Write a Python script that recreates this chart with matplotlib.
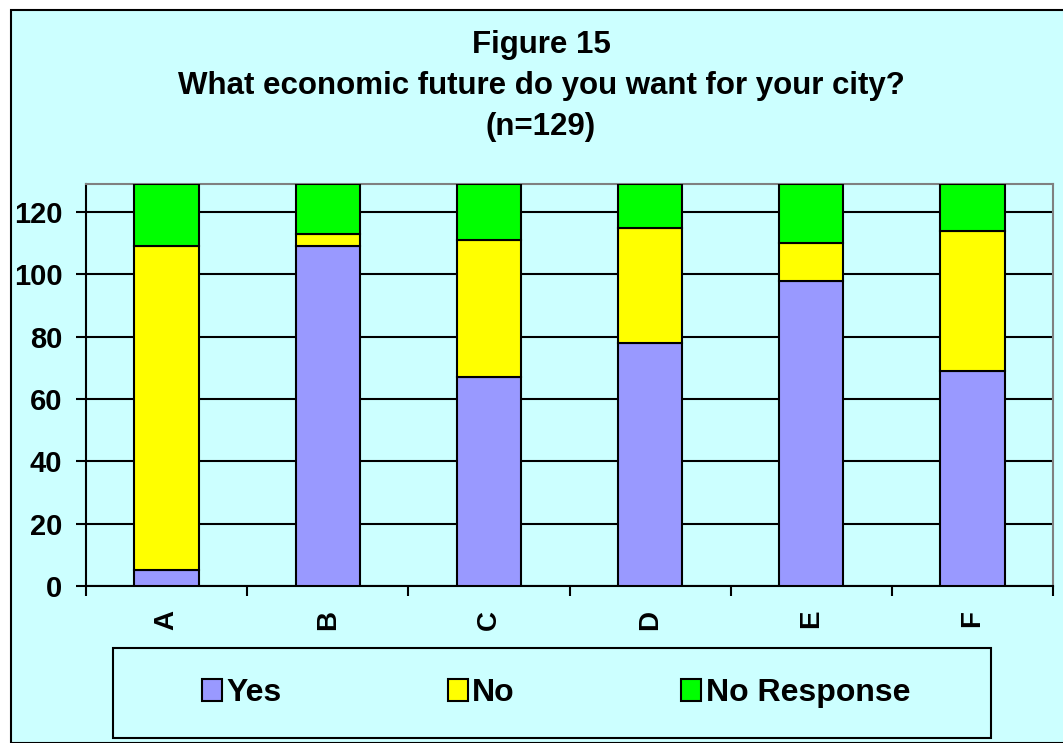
import numpy as np
import matplotlib.pyplot as plt
from matplotlib.patches import Rectangle, Patch

# survey answers per option
categories = ['A', 'B', 'C', 'D', 'E', 'F']
yes = [5, 109, 67, 78, 98, 69]
no = [104, 4, 44, 37, 12, 45]
no_response = [20, 16, 18, 14, 19, 15]

series_names = ['Yes', 'No', 'No Response']
colors = ['#9999FF', '#FFFF00', '#00FF00']
bg = '#CCFFFF'

plt.rcParams['font.family'] = ['Liberation Sans', 'DejaVu Sans']
plt.rcParams['font.weight'] = 'bold'

fig = plt.figure(figsize=(10.63, 7.43), dpi=100, facecolor='white')

# chart area box
fig.patches.append(Rectangle((11 / 1063, 0), 1.1, 733 / 743, transform=fig.transFigure,
                             facecolor=bg, edgecolor='black', linewidth=1.5, zorder=-10))

ax = fig.add_axes([86 / 1063, 157 / 743, 967 / 1063, 402 / 743])
ax.set_facecolor(bg)

x = np.arange(len(categories))
bottom = np.zeros(len(categories))
for vals, c in zip([yes, no, no_response], colors):
    ax.bar(x, vals, width=0.4, bottom=bottom, color=c, edgecolor='black', linewidth=1.5, zorder=3)
    bottom += np.array(vals)

ax.set_xlim(-0.5, len(categories) - 0.5)
ax.set_ylim(0, 129)
ax.set_yticks(range(0, 121, 20))
ax.yaxis.grid(True, color='black', linewidth=1.5, zorder=0)
ax.set_axisbelow(True)

ax.set_xticks(x)
ax.set_xticklabels(categories, rotation=90, fontsize=20, fontweight='bold')
ax.set_xticks(np.arange(-0.5, len(categories)), minor=True)
ax.tick_params(axis='x', which='major', length=0, pad=17)
ax.tick_params(axis='x', which='minor', length=7, width=1.5, direction='out')
ax.tick_params(axis='y', length=7, width=1.5, labelsize=21, pad=10)
for lab in ax.get_yticklabels():
    lab.set_fontweight('bold')

for s in ['left', 'bottom']:
    ax.spines[s].set_color('black')
    ax.spines[s].set_linewidth(1.5)
for s in ['top', 'right']:
    ax.spines[s].set_color('#808080')
    ax.spines[s].set_linewidth(1.5)

# title, three lines
cx = 541 / 1063
fig.text(cx, 1 - 45 / 743, 'Figure 15', ha='center', va='center', fontsize=22.5, fontweight='bold')
fig.text(cx, 1 - 86 / 743, 'What economic future do you want for your city?', ha='center', va='center',
         fontsize=22.5, fontweight='bold')
fig.text(cx, 1 - 127 / 743, '(n=129)', ha='center', va='center', fontsize=22.5, fontweight='bold')

# legend box
fig.patches.append(Rectangle((113 / 1063, 5 / 743), 878 / 1063, 90 / 743, transform=fig.transFigure,
                             facecolor=bg, edgecolor='black', linewidth=1.5, zorder=1))
handles = [Patch(facecolor=c, edgecolor='black', linewidth=1.5) for c in colors]
leg = fig.legend(handles, series_names, loc='center', bbox_to_anchor=(556 / 1063, 50 / 743),
                 ncol=3, frameon=False, handlelength=0.62, handleheight=0.7,
                 handletextpad=0.15, columnspacing=5.2, prop={'weight': 'bold', 'size': 23})

fig.savefig('out.png', dpi=100, facecolor='white')
